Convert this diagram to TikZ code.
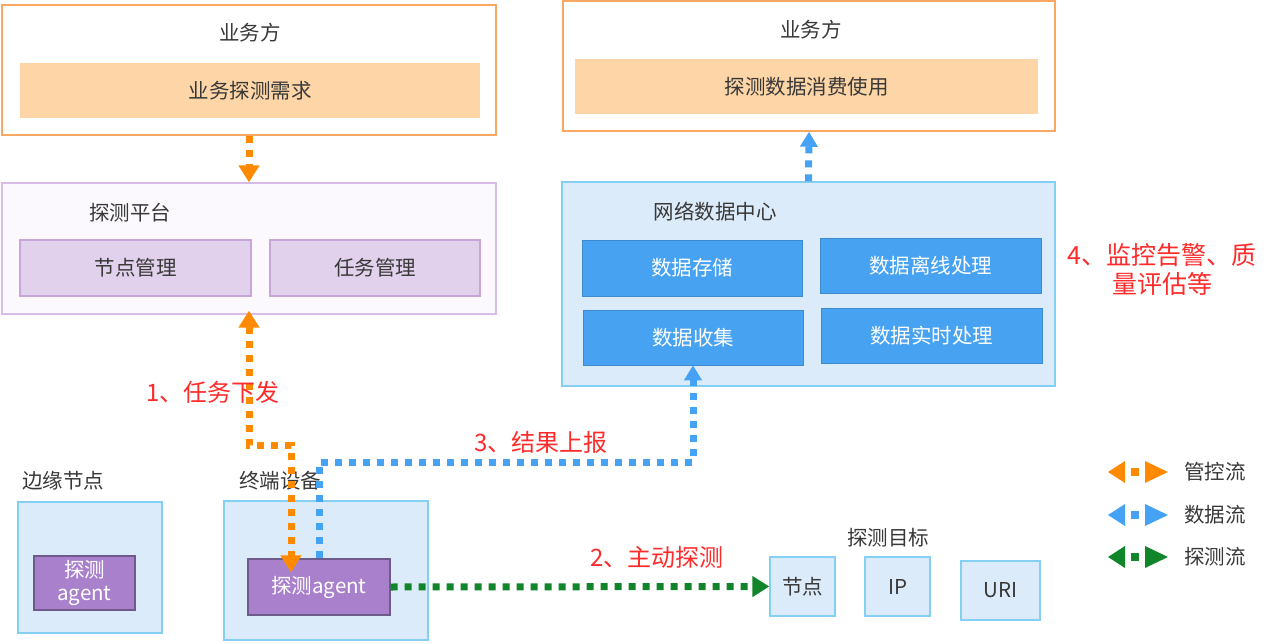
\documentclass[tikz,border=0pt]{standalone}
\usepackage{fontspec}
\setmainfont{Noto Sans CJK SC}
\usetikzlibrary{arrows.meta}
\definecolor{txt}{HTML}{383838}
\definecolor{obord}{HTML}{F8A862}
\definecolor{ofill}{HTML}{FDD5A6}
\definecolor{pbord}{HTML}{D8BCE6}
\definecolor{pbg}{HTML}{FBF9FD}
\definecolor{pin}{HTML}{E2D1EC}
\definecolor{pinb}{HTML}{C8A6DB}
\definecolor{bbg}{HTML}{DCEBFA}
\definecolor{bbord}{HTML}{84D0F2}
\definecolor{bin}{HTML}{48A2F2}
\definecolor{agfill}{HTML}{A980CB}
\definecolor{agbord}{HTML}{6F5A8C}
\definecolor{flowo}{HTML}{FF8A00}
\definecolor{flowb}{HTML}{45A2F5}
\definecolor{flowg}{HTML}{11852A}
\definecolor{lab}{HTML}{FF2A2A}
\tikzset{
  every node/.style={font=\fontsize{20.5}{24}\selectfont, text=txt, inner sep=0pt},
  bizbox/.style={draw=obord, fill=white, line width=1.5pt},
  bizin/.style={fill=ofill},
  platbox/.style={draw=pbord, fill=pbg, line width=1.3pt},
  platin/.style={draw=pinb, fill=pin, line width=1.2pt},
  bluebox/.style={draw=bbord, fill=bbg, line width=1.3pt},
  bluein/.style={fill=bin, draw=bin!85!black, line width=0.6pt, text=white},
  agentbox/.style={fill=agfill, draw=agbord, line width=1.2pt, text=white, align=center, font=\fontsize{20.5}{23}\selectfont},
  redlab/.style={text=lab, font=\fontsize{24}{29}\selectfont, align=center},
  flowline/.style={line width=7pt, dash pattern=on 7pt off 7pt},
  oflow/.style={flowline, draw=flowo},
  bflow/.style={flowline, draw=flowb},
  gflow/.style={flowline, draw=flowg},
  bigtip/.tip={Triangle[width=20pt,length=17pt]},
  smalltip/.tip={Triangle[width=17pt,length=15pt]},
}
\begin{document}
\begin{tikzpicture}[x=1pt,y=-1pt]
\useasboundingbox (0,0) rectangle (1274,644);
% top-left business
\node[bizbox, minimum width=494, minimum height=130] (biz1) at (249,70) {};
\node (biz1t) at (250,33) {业务方};
\node[bizin, minimum width=460, minimum height=55] (req) at (250,90.5) {业务探测需求};
% platform
\node[platbox, minimum width=494, minimum height=131] (plat) at (249,248.5) {};
\node (platt) at (130,213) {探测平台};
\node[platin, minimum width=231, minimum height=56] (nodemgr) at (135.5,268) {节点管理};
\node[platin, minimum width=210, minimum height=56] (taskmgr) at (375,268) {任务管理};
% top-right business
\node[bizbox, minimum width=492, minimum height=130] (biz2) at (809,66) {};
\node (biz2t) at (811,30) {业务方};
\node[bizin, minimum width=463, minimum height=55] (consume) at (806.5,86.5) {探测数据消费使用};
% network data center
\node[bluebox, minimum width=493, minimum height=204] (ndc) at (808.5,284) {};
\node (ndct) at (715,212) {网络数据中心};
\node[bluein, minimum width=220, minimum height=56] (store) at (692,268) {数据存储};
\node[bluein, minimum width=221, minimum height=55] (offline) at (930.5,265.5) {数据离线处理};
\node[bluein, minimum width=220, minimum height=55] (collect) at (693,337.5) {数据收集};
\node[bluein, minimum width=221, minimum height=55] (realtime) at (931.5,335.5) {数据实时处理};
\node[redlab, font=\fontsize{25}{29}\selectfont] (l4) at (1162,269) {4、监控告警、质\\量评估等};
% edge node
\node (edget) at (63,481) {边缘节点};
\node[bluebox, minimum width=144, minimum height=131] (edgebox) at (90,567.5) {};
\node[agentbox, minimum width=101, minimum height=54] (edgeagent) at (84.5,583) {探测\\agent};
% terminal
\node (termt) at (280,481) {终端设备};
\node[bluebox, minimum width=204, minimum height=139] (termbox) at (326,570.5) {};
\node[agentbox, minimum width=142, minimum height=56] (agent) at (319,587) {探测agent};
% targets
\node (tgtt) at (888,538) {探测目标};
\node[bluebox, minimum width=65, minimum height=59] (t1) at (802.5,586.5) {节点};
\node[bluebox, minimum width=65, minimum height=59] (t2) at (897.5,586.5) {IP};
\node[bluebox, minimum width=79, minimum height=59] (t3) at (1000.5,590.5) {URI};
% flows
\draw[oflow, -{bigtip}] (biz1.south) -- (plat.north);
\draw[bflow, -{smalltip}] (ndc.north) -- (biz2.south);
\coordinate (oturn) at (291,445);
\draw[oflow, {bigtip}-{bigtip}, shorten <=-4pt, shorten >=-14pt] (plat.south) |- (oturn) -- (oturn |- agent.north);
\coordinate (bturn) at (693,462);
\draw[bflow, -{smalltip}] (agent.north) |- (bturn) -- (collect.south);
\draw[gflow, -{bigtip}] (agent.east) -- (t1.west);
% labels
\node[redlab] (l1) at (213,392) {1、任务下发};
\node[redlab] (l3) at (541,442) {3、结果上报};
\node[redlab] (l2) at (657,557) {2、主动探测};
% legend
\foreach \yy/\cc/\lbl [count=\i] in {472/flowo/管控流, 515/flowb/数据流, 557/flowg/探测流}{
  \fill[\cc] (1108,\yy) -- (1125,\yy-11) -- (1125,\yy+11) -- cycle;
  \fill[\cc] (1131,\yy-4) rectangle (1139,\yy+4);
  \fill[\cc] (1145,\yy-11) -- (1168,\yy) -- (1145,\yy+11) -- cycle;
  \node (leg\i) at (1215,\yy) {\lbl};
}
\end{tikzpicture}
\end{document}
